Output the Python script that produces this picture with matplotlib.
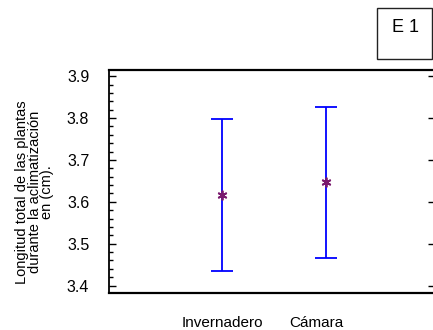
import matplotlib
matplotlib.use("Agg")
from matplotlib import pyplot as plt
from matplotlib.patches import Rectangle
from matplotlib.ticker import MultipleLocator
from matplotlib.transforms import ScaledTranslation

# data
groups = ["Invernadero", "Cámara"]
means = [3.616, 3.647]
errors = [0.181, 0.180]
panel_tag = "E 1"
y_label = "Longitud total de las plantas\ndurante la aclimatización\nen (cm)."

plt.rcParams['font.family'] = ['Liberation Sans', 'DejaVu Sans']

fig = plt.figure(figsize=(4.33, 3.30), dpi=100)
ax = fig.add_axes([0.251, 0.113, 0.7536, 0.676])

xpos = [1, 2]
ax.errorbar(xpos, means, yerr=errors, fmt='none', ecolor='blue',
            elinewidth=1.3, capsize=7.6, capthick=1.3)
ax.plot(xpos, means, linestyle='none', marker=(6, 2, 0), markersize=7,
        markeredgewidth=1.3, color='#7a1a6e')

ax.set_xlim(-0.09, 3.048)
ax.set_ylim(3.383, 3.9155)

ax.set_xticks(xpos)
ax.set_xticklabels(groups, fontsize=11)
ax.tick_params(axis='x', length=0, pad=17)
# second label sits a bit left of its bar in the reference
lbl = ax.get_xticklabels()[1]
lbl.set_transform(lbl.get_transform() + ScaledTranslation(-0.1, 0, fig.dpi_scale_trans))

ax.yaxis.set_major_locator(MultipleLocator(0.1))
ax.yaxis.set_minor_locator(MultipleLocator(0.02))
ax.tick_params(axis='y', which='major', direction='in', length=5, width=1,
               labelsize=11.5, pad=14)
ax.tick_params(axis='y', which='minor', direction='in', length=3, width=1)
ax.tick_params(axis='y', which='major', right=True)
ax.tick_params(axis='y', which='minor', right=False)

ax.spines['top'].set_linewidth(1.6)
ax.spines['bottom'].set_linewidth(1.6)
ax.spines['left'].set_linewidth(1.3)
ax.spines['right'].set_visible(False)

ax.set_ylabel(y_label, fontsize=10.5, linespacing=0.85)
ax.yaxis.set_label_coords(-0.168, 0.45)

# panel tag box in the top right corner
fig.patches.append(Rectangle((377.3 / 433, 1 - 59.3 / 330), 54.7 / 433, 51 / 330,
                             transform=fig.transFigure, fill=False,
                             edgecolor='#222222', linewidth=1))
fig.text(405 / 433, 1 - 27 / 330, panel_tag, ha='center', va='center', fontsize=13)

fig.savefig("out.png", dpi=100)
plt.close(fig)
